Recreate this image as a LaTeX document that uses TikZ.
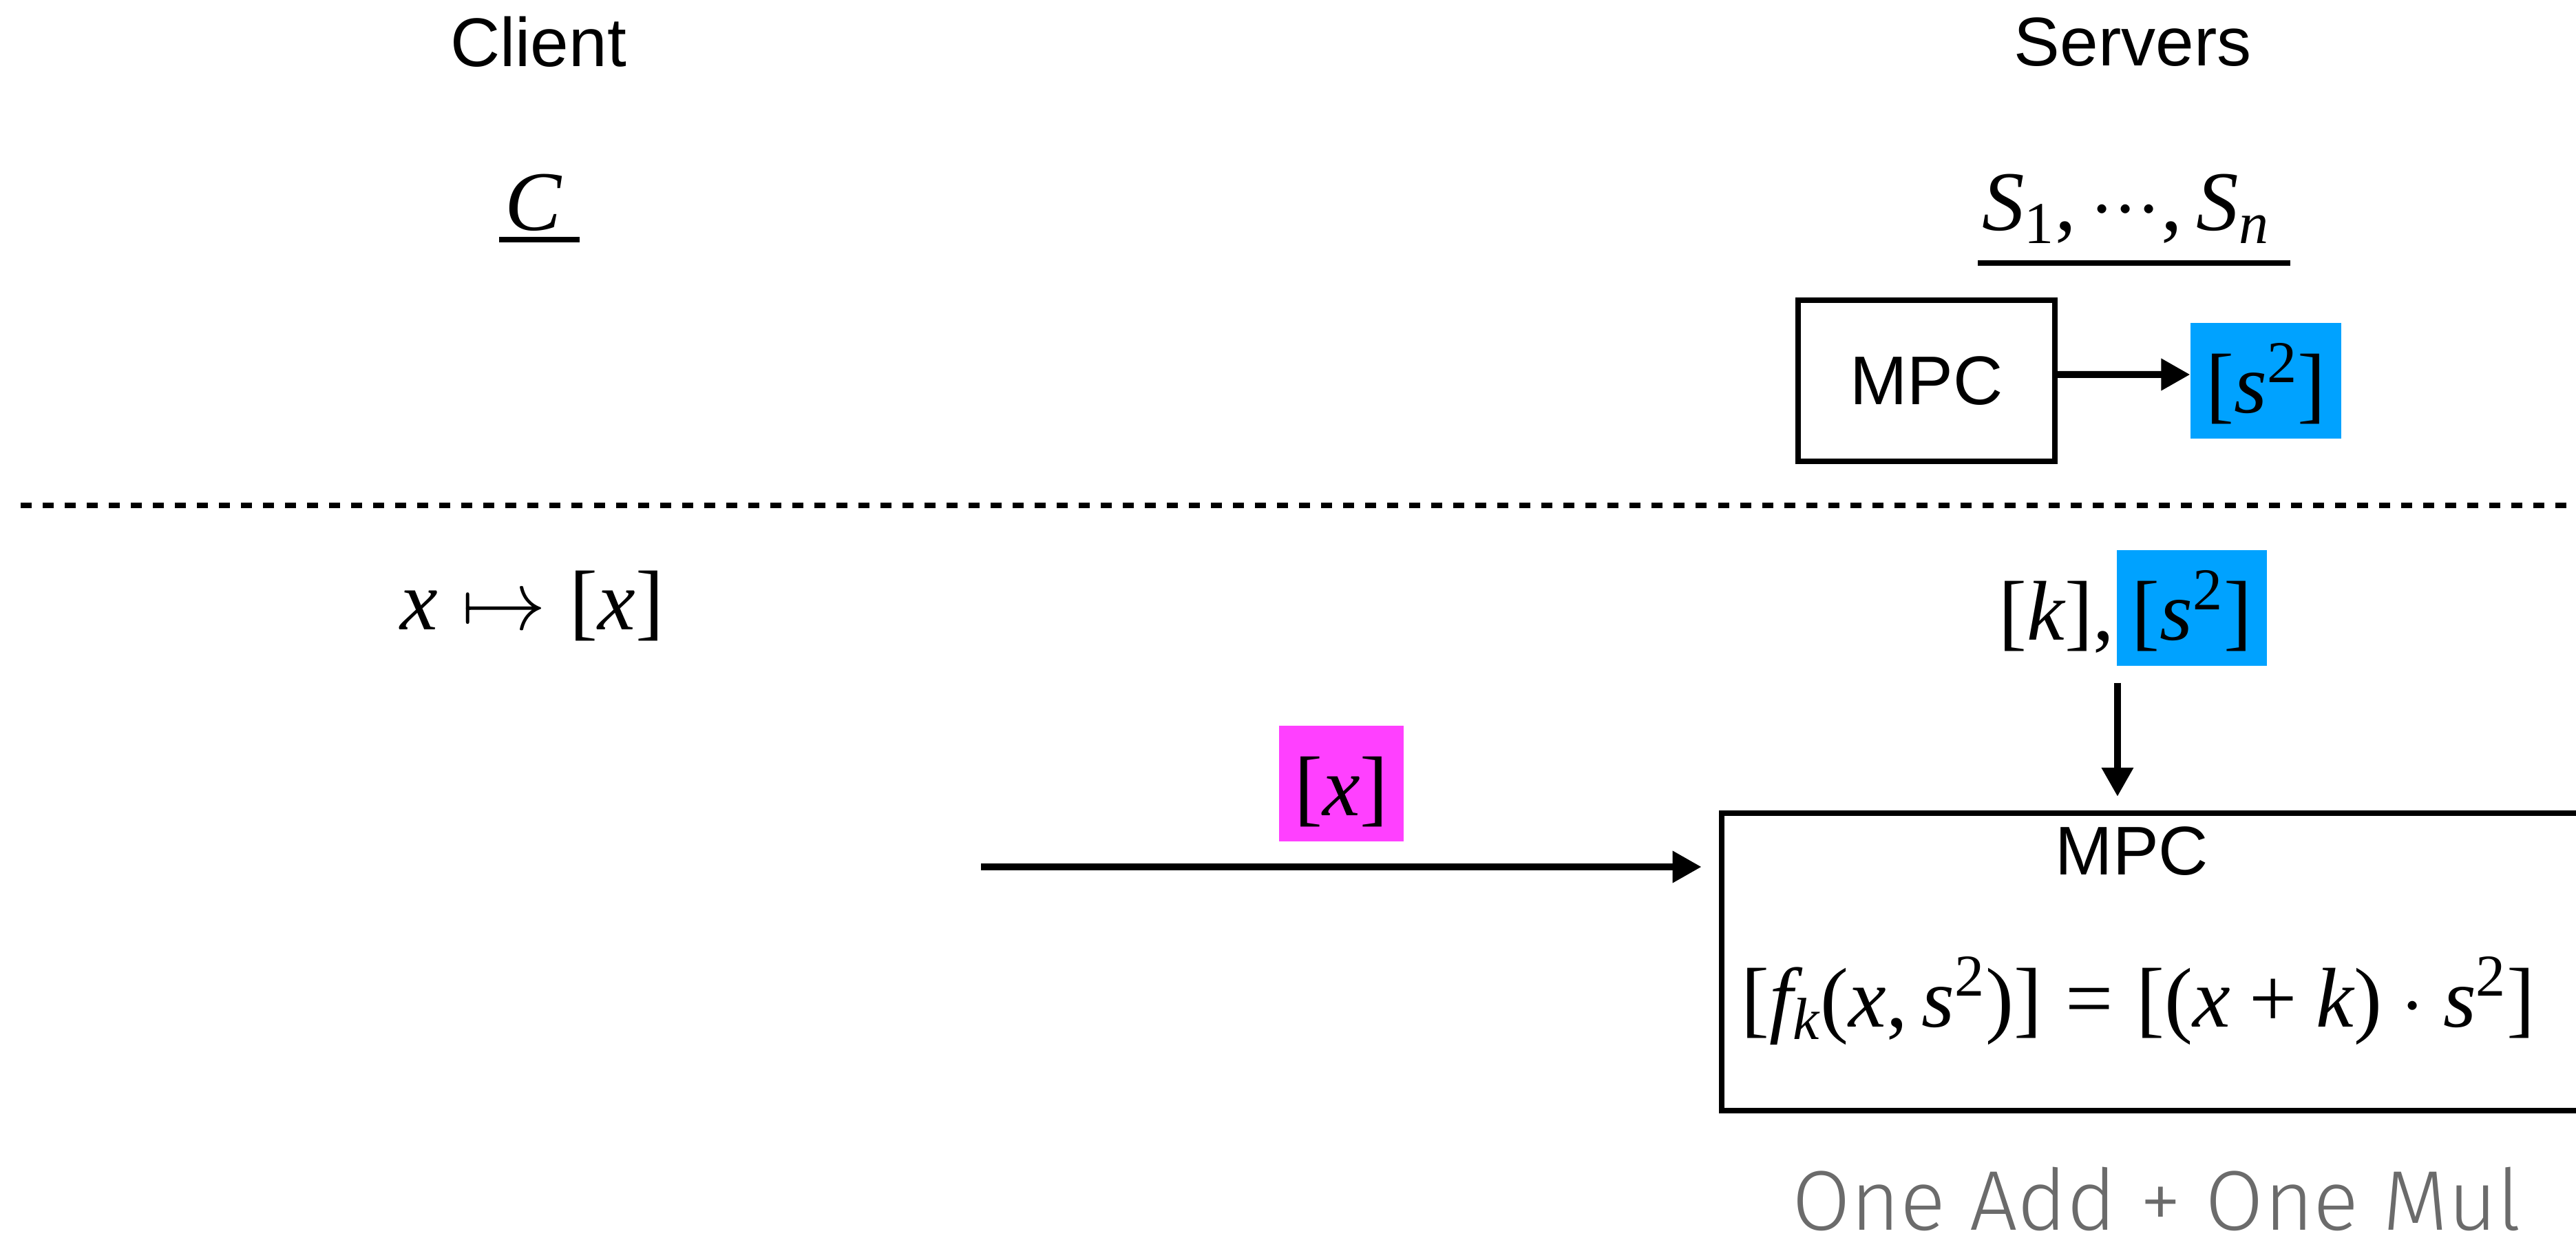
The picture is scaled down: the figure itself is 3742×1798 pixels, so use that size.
\RequirePackage{fix-cm}
\documentclass[tikz,border=0pt]{standalone}
\usepackage[no-math]{fontspec}
\newfontfamily\sansf{Liberation Sans}
\newfontfamily\lightf{Fira Sans Light}
\newfontfamily\tms[NFSSFamily=tms]{Liberation Serif}
\DeclareSymbolFont{tmsit}{TU}{tms}{m}{it}
\DeclareSymbolFont{tmsup}{TU}{tms}{m}{n}
\DeclareMathSymbol{x}{\mathalpha}{tmsit}{`x}
\DeclareMathSymbol{s}{\mathalpha}{tmsit}{`s}
\DeclareMathSymbol{k}{\mathalpha}{tmsit}{`k}
\DeclareMathSymbol{f}{\mathalpha}{tmsit}{`f}
\DeclareMathSymbol{n}{\mathalpha}{tmsit}{`n}
\DeclareMathSymbol{C}{\mathalpha}{tmsit}{`C}
\DeclareMathSymbol{S}{\mathalpha}{tmsit}{`S}
\DeclareMathSymbol{1}{\mathord}{tmsup}{`1}
\DeclareMathSymbol{2}{\mathord}{tmsup}{`2}
\DeclareMathSymbol{[}{\mathopen}{tmsup}{`[}
\DeclareMathSymbol{]}{\mathclose}{tmsup}{`]}
\DeclareMathSymbol{(}{\mathopen}{tmsup}{`(}
\DeclareMathSymbol{)}{\mathclose}{tmsup}{`)}
\DeclareMathSymbol{,}{\mathpunct}{tmsup}{`,}
\DeclareMathSymbol{=}{\mathrel}{tmsup}{`=}
\DeclareMathSymbol{+}{\mathbin}{tmsup}{`+}
\newcommand\tightdots{{\cdot}{\cdot}{\cdot}}
\usetikzlibrary{arrows.meta}
\definecolor{hlblue}{HTML}{00A2FF}
\definecolor{hlpink}{HTML}{FF40FF}
\definecolor{costgray}{HTML}{6B6B6B}
\tikzset{
  sanslbl/.style={font=\sansf\fontsize{28.45pt}{34pt}\selectfont, inner sep=0pt},
  mathlbl/.style={font=\fontsize{35pt}{42pt}\selectfont, inner sep=0pt},
  lightlbl/.style={font=\lightf\fontsize{35pt}{42pt}\selectfont, text=costgray, inner sep=0pt},
  mpcbox/.style={draw, line width=0.08cm, inner sep=0pt, font=\sansf\fontsize{28.45pt}{34pt}\selectfont},
  hl/.style={inner xsep=0.22cm, inner ysep=0pt, text height=1.31cm, text depth=0.37cm, font=\fontsize{35pt}{42pt}\selectfont},
  arr/.style={line width=0.1cm, -{Triangle[length=0.42cm,width=0.44cm]}},
  uline/.style={line width=0.08cm},
  sepline/.style={line width=0.08cm, dash pattern=on 0.16cm off 0.16cm}
}
\begin{document}
\begin{tikzpicture}[x=0.01cm, y=-0.01cm]
\useasboundingbox (0,0) rectangle (3742,1798);
% headers
\node[sanslbl, anchor=base] (client) at (782,97) {Client};
\node[sanslbl, anchor=base] (servers) at (3098,96) {Servers};
\node[mathlbl, anchor=base] (cname) at (775,335) {$C$};
\draw[uline] (725,348) -- (842,348);
\node[mathlbl, anchor=base] (snames) at (3088,335) {$S_1, \tightdots, S_n$};
\draw[uline] (2873,382) -- (3327,382);
% setup phase
\node[mpcbox, minimum width=3.73cm, minimum height=2.34cm] (mpc1) at (2798.5,553) {MPC};
\node[hl, fill=hlblue, anchor=base] (sq1) at (3291.5,600) {$[s^2]$};
\draw[arr] ([yshift=0.09cm]mpc1.east) -- ([yshift=0.09cm]sq1.west);
% separator
\draw[sepline] (30,734) -- (3760,734);
% online phase
\node[mathlbl, anchor=base] (enc) at (773,915) {$x \mapsto [x]$};
\node[mathlbl, anchor=base east] (kshare) at (3072,930) {$[k],$};
\node[hl, fill=hlblue, anchor=base] (sq2) at (3184,930) {$[s^2]$};
\node[mpcbox, minimum width=12.69cm, minimum height=4.32cm] (big) at (3135.5,1397) {};
\node[sanslbl, anchor=base] (mpc2) at (3097,1270) {MPC};
\node[mathlbl, anchor=base] (fml) at (3106,1491) {$[f_k(x, s^2)] = [(x+k)\cdot s^2]$};
\node[lightlbl, anchor=base] (cost) at (3133,1786) {One Add + One Mul};
% arrows
\coordinate (dtop) at ([shift={(2,24)}]sq2.south west);
\coordinate (dbot) at (dtop |- big.north);
\draw[arr] (dtop) -- ([yshift=0.2cm]dbot);
\coordinate (xsrc) at (1425,1259);
\coordinate (xdst) at (big.west |- xsrc);
\draw[arr] (xsrc) -- ([xshift=-0.25cm]xdst) node[midway, above=0.32cm, hl, fill=hlpink] (xsh) {$[x]$};
\end{tikzpicture}
\end{document}
